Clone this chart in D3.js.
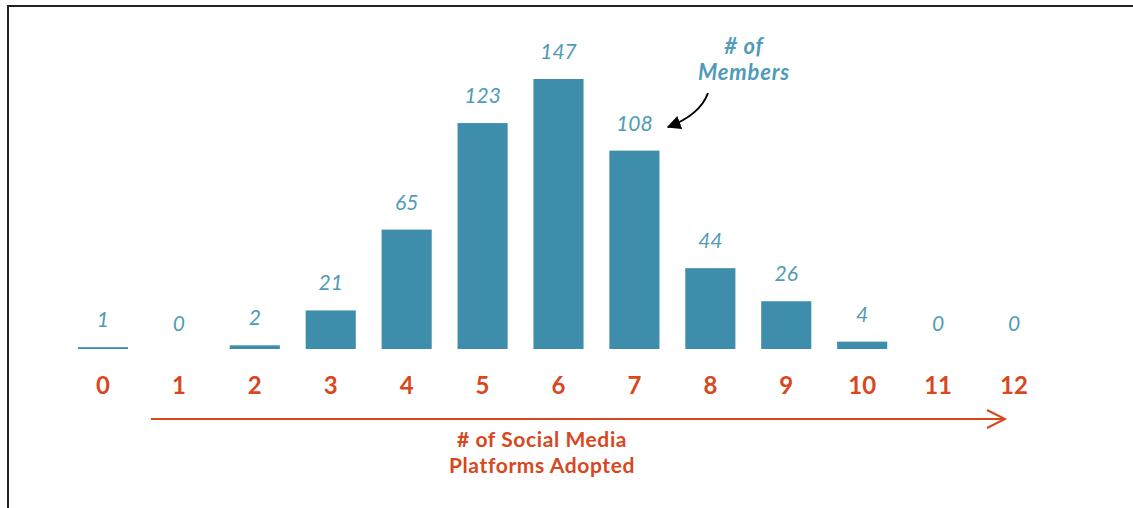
<!DOCTYPE html>
<html>
<head>
<meta charset="utf-8">
<script src="https://cdn.jsdelivr.net/npm/d3@7"></script>
<style>
  body { margin: 0; background: #fff; }
  svg { display: block; font-family: Lato, "Open Sans", sans-serif; }
</style>
</head>
<body>
<script>
var platforms = [0, 1, 2, 3, 4, 5, 6, 7, 8, 9, 10, 11, 12];
var members = [1, 0, 2, 21, 65, 123, 147, 108, 44, 26, 4, 0, 0];
var axisTitle = ["# of Social Media", "Platforms Adopted"];
var noteLines = ["# of", "Members"];

var w = 1133, h = 508;
var barColor = "#3e8eab", labelColor = "#4f9bb8", orange = "#d8471d";

var svg = d3.select("body").append("svg")
    .attr("width", w)
    .attr("height", h);

// frame (top and left edges only)
svg.append("path")
    .attr("d", "M8,508 V6 H1133")
    .attr("fill", "none")
    .attr("stroke", "#222")
    .attr("stroke-width", 2);

var xScale = d3.scaleBand()
    .domain(platforms)
    .range([65, 1052])
    .paddingInner(0.34)
    .paddingOuter(0.17);

var yScale = d3.scaleLinear()
    .domain([0, 147])
    .range([349, 79]);

// bars
svg.selectAll(".bar")
    .data(members)
    .enter().append("rect")
    .attr("class", "bar")
    .attr("x", function(d, i) { return xScale(platforms[i]); })
    .attr("y", function(d) { return yScale(d); })
    .attr("width", xScale.bandwidth())
    .attr("height", function(d) { return yScale(0) - yScale(d); })
    .attr("fill", barColor);

// value labels
svg.selectAll(".val")
    .data(members)
    .enter().append("text")
    .attr("class", "val")
    .attr("x", function(d, i) { return xScale(platforms[i]) + xScale.bandwidth() / 2; })
    .attr("y", function(d) { return yScale(d) - (d == 0 ? 18 : 20); })
    .attr("text-anchor", "middle")
    .attr("font-size", 21)
    .attr("font-style", "italic")
    .attr("fill", labelColor)
    .text(function(d) { return d; });

// category labels
var xAxis = d3.axisBottom(xScale).tickSize(0).tickPadding(0);
var gx = svg.append("g")
    .attr("transform", "translate(0,377)")
    .call(xAxis);
gx.select(".domain").remove();
gx.selectAll("text")
    .attr("font-family", "Lato, sans-serif")
    .attr("font-size", 24)
    .attr("font-weight", "bold")
    .attr("fill", orange);

// arrow under the axis
svg.append("line")
    .attr("x1", 151).attr("x2", 1005)
    .attr("y1", 419).attr("y2", 419)
    .attr("stroke", orange)
    .attr("stroke-width", 2);
svg.append("path")
    .attr("d", "M987,410 L1005,419 L987,428")
    .attr("fill", "none")
    .attr("stroke", orange)
    .attr("stroke-width", 2);

svg.selectAll(".atitle")
    .data(axisTitle)
    .enter().append("text")
    .attr("class", "atitle")
    .attr("x", 542)
    .attr("y", function(d, i) { return 447 + i * 26; })
    .attr("text-anchor", "middle")
    .attr("font-size", 21)
    .attr("letter-spacing", 0.6)
    .attr("font-weight", "bold")
    .attr("fill", orange)
    .text(function(d) { return d; });

// annotation
svg.selectAll(".note")
    .data(noteLines)
    .enter().append("text")
    .attr("class", "note")
    .attr("x", 744)
    .attr("y", function(d, i) { return 54 + i * 26; })
    .attr("text-anchor", "middle")
    .attr("font-size", 22)
    .attr("letter-spacing", 0.8)
    .attr("font-weight", "bold")
    .attr("font-style", "italic")
    .attr("fill", labelColor)
    .text(function(d) { return d; });

svg.append("defs").append("marker")
    .attr("id", "head")
    .attr("viewBox", "0 0 10 10")
    .attr("refX", 9).attr("refY", 5)
    .attr("markerWidth", 7).attr("markerHeight", 7)
    .attr("orient", "auto")
    .append("path")
    .attr("d", "M0,0 L10,5 L0,10 Z")
    .attr("fill", "#000");

svg.append("path")
    .attr("d", "M708,93 Q700,115 668,127")
    .attr("fill", "none")
    .attr("stroke", "#000")
    .attr("stroke-width", 2)
    .attr("marker-end", "url(#head)");
</script>
</body>
</html>
